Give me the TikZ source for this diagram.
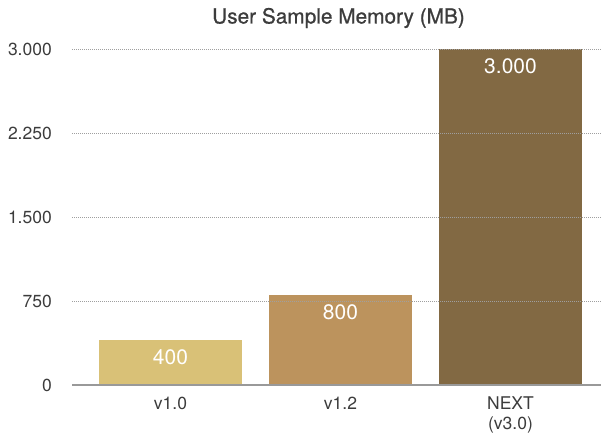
\documentclass[tikz,border=0pt]{standalone}
\usepackage{fontspec}
\setmainfont{TeX Gyre Heros}
\newfontfamily\titlefont[FakeBold=0.8]{TeX Gyre Heros}
\usepackage{xcolor}
\usetikzlibrary{positioning}

\definecolor{barOld}{HTML}{D9C177}
\definecolor{barMid}{HTML}{BC935D}
\definecolor{barNext}{HTML}{826943}
\definecolor{inkgray}{HTML}{3C3C3C}
\newcommand{\ysc}{0.112}

\begin{document}
\begin{tikzpicture}[x=1pt,y=1pt,
        charttitle/.style={inner sep=0pt, anchor=base, text=inkgray, font=\titlefont\fontsize{20.8}{24}\selectfont},
        ticklabel/.style={inner sep=0pt, anchor=base east, text=inkgray, font=\fontsize{17.5}{20}\selectfont},
        barvalue/.style={inner sep=0pt, anchor=base, text=white, font=\fontsize{21}{24}\selectfont},
        catlabel/.style={inner sep=0pt, anchor=base, align=center, text=inkgray, font=\fontsize{17.5}{20}\selectfont},
        gridline/.style={gray!75, line width=0.7pt, dash pattern=on 0.8pt off 1.2pt},
        baseaxis/.style={gray!80, line width=1.1pt}]
    \useasboundingbox (0,0) rectangle (601,435);

    \node[charttitle] (title) at (338.5,411.5) {User Sample Memory (MB)};

    % bars with their values
    \foreach \cx/\val/\col/\shown/\name in {170.5/400/barOld/400/old, 340.5/800/barMid/800/mid, 510.5/3000/barNext/3.000/next}{
        \fill[\col] (\cx-71.5,50) rectangle (\cx+71.5,50+\val*\ysc);
        \node[barvalue] (val-\name) at (\cx,50+\val*\ysc-24.5) {\shown};
    }

    % grid and y labels
    \foreach \v/\lbl in {750/750, 1500/1.500, 2250/2.250, 3000/3.000}{
        \coordinate (gl-\v) at (72,50+\v*\ysc);
        \coordinate (gr-\v) at (601,50+\v*\ysc);
        \draw[gridline] (gl-\v) -- (gr-\v);
        \node[ticklabel] (tick-\v) at (52,50+\v*\ysc-6.3) {\lbl};
    }
    \coordinate (gl-0) at (72,50);
    \coordinate (gr-0) at (601,50);
    \draw[baseaxis] (gl-0) -- (gr-0);
    \node[ticklabel] (tick-0) at (52,43.7) {0};

    % categories (base = last line)
    \node[catlabel] (cat-old) at (170.5,25.5) {v1.0};
    \node[catlabel] (cat-mid) at (340.5,25.5) {v1.2};
    \node[catlabel] (cat-next) at (510.5,5.5) {NEXT\\(v3.0)};
\end{tikzpicture}
\end{document}
